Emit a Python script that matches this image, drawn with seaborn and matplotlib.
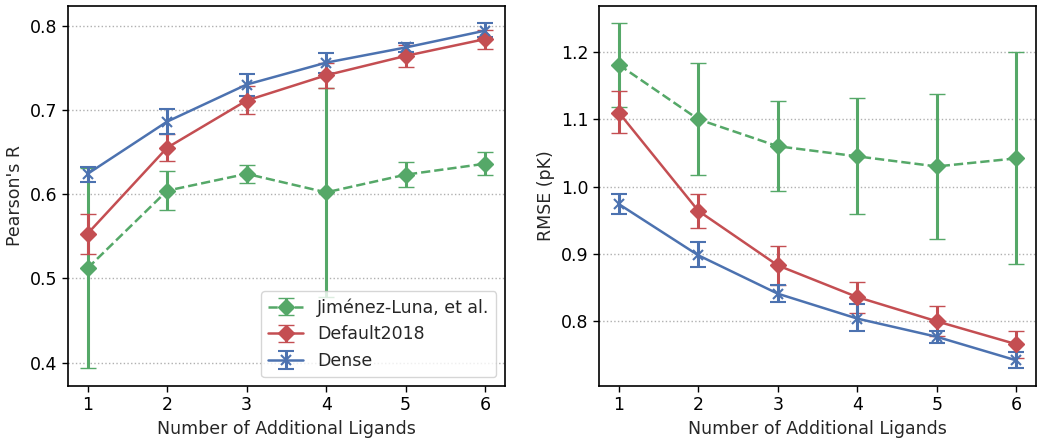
import numpy as np
import matplotlib
matplotlib.use("Agg")
import matplotlib.pyplot as plt
import seaborn as sns

n_ligands = [1, 2, 3, 4, 5, 6]
series_names = ["Jiménez-Luna, et al.", "Default2018", "Dense"]

# Pearson's R (center, lower, upper)
r_jl = [0.512, 0.604, 0.624, 0.602, 0.623, 0.636]
r_jl_lo = [0.393, 0.581, 0.613, 0.478, 0.608, 0.623]
r_jl_hi = [0.631, 0.627, 0.635, 0.726, 0.638, 0.650]

r_def = [0.553, 0.655, 0.711, 0.741, 0.764, 0.784]
r_def_lo = [0.529, 0.639, 0.695, 0.726, 0.751, 0.772]
r_def_hi = [0.576, 0.671, 0.728, 0.755, 0.777, 0.795]

r_dense = [0.624, 0.686, 0.730, 0.756, 0.774, 0.794]
r_dense_lo = [0.614, 0.671, 0.716, 0.744, 0.769, 0.786]
r_dense_hi = [0.632, 0.701, 0.742, 0.768, 0.779, 0.803]

# RMSE (pK)
e_jl = [1.181, 1.100, 1.060, 1.045, 1.030, 1.042]
e_jl_lo = [1.118, 1.018, 0.994, 0.960, 0.922, 0.885]
e_jl_hi = [1.243, 1.183, 1.127, 1.131, 1.138, 1.200]

e_def = [1.110, 0.964, 0.883, 0.836, 0.800, 0.766]
e_def_lo = [1.080, 0.939, 0.854, 0.813, 0.778, 0.745]
e_def_hi = [1.142, 0.989, 0.912, 0.858, 0.822, 0.786]

e_dense = [0.974, 0.898, 0.841, 0.804, 0.777, 0.742]
e_dense_lo = [0.960, 0.880, 0.828, 0.785, 0.768, 0.730]
e_dense_hi = [0.989, 0.918, 0.854, 0.825, 0.785, 0.755]

sns.set_theme(style="ticks")
plt.rcParams["font.family"] = ["DejaVu Sans"]
pal = sns.color_palette("deep")
colors = [pal[2], pal[3], pal[0]]
markers = ["D", "D", "x"]
styles = ["--", "-", "-"]

fig = plt.figure(figsize=(10.5, 4.45), dpi=100)
ax1 = fig.add_axes([0.0645, 0.1333, 0.4165, 0.8537])
ax2 = fig.add_axes([0.5705, 0.1333, 0.4162, 0.8537])

panels = [
    (ax1, [(r_jl, r_jl_lo, r_jl_hi), (r_def, r_def_lo, r_def_hi), (r_dense, r_dense_lo, r_dense_hi)], "Pearson's R"),
    (ax2, [(e_jl, e_jl_lo, e_jl_hi), (e_def, e_def_lo, e_def_hi), (e_dense, e_dense_lo, e_dense_hi)], "RMSE (pK)"),
]

fs = 12.5
for ax, data, ylabel in panels:
    x = np.array(n_ligands)
    for (c, lo, hi), name, col, mk, ls in zip(data, series_names, colors, markers, styles):
        c = np.array(c); lo = np.array(lo); hi = np.array(hi)
        ax.errorbar(x, c, yerr=[c - lo, hi - c], fmt=mk, linestyle=ls, color=col,
                    lw=1.8, elinewidth=2.2, capsize=6, capthick=1.5,
                    markersize=8.5 if mk == "D" else 7, markeredgewidth=1.5 if mk == "x" else 1,
                    label=name)
    ax.set_xticks(n_ligands)
    ax.set_ylabel(ylabel, fontsize=fs)
    ax.set_xlabel("Number of Additional Ligands", fontsize=fs)
    ax.tick_params(labelsize=fs, length=4, width=1, colors="black")
    ax.yaxis.grid(True, linestyle=":", color="#b0b0b0", lw=1)
    ax.set_axisbelow(True)
    for s in ax.spines.values():
        s.set_color("black")
        s.set_linewidth(1.2)

ax1.set_yticks([0.4, 0.5, 0.6, 0.7, 0.8])
ax2.set_yticks([0.8, 0.9, 1.0, 1.1, 1.2])
ax1.legend(loc="lower right", fontsize=fs, handlelength=2.0, borderpad=0.4)

fig.savefig("out.png", dpi=100)
